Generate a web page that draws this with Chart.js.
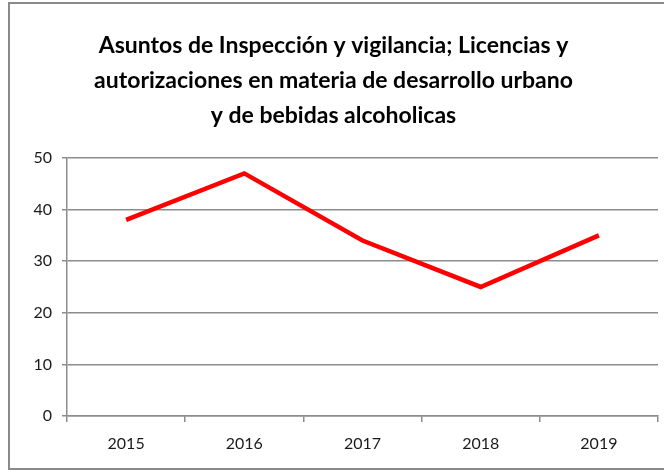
<!DOCTYPE html>
<html>
<head>
<meta charset="utf-8">
<script src="https://cdn.jsdelivr.net/npm/chart.js@4"></script>
<style>
  html, body { margin: 0; padding: 0; background: #fff; }
  #wrap { position: relative; width: 664px; height: 470px; overflow: hidden; }
  #frame {
    position: absolute; left: 8px; top: 2px; width: 700px; height: 464px;
    border: 2px solid #8a8a8a; pointer-events: none;
  }
  canvas { position: absolute; left: 0; top: 0; }
</style>
</head>
<body>
<div id="wrap">
  <div id="frame"></div>
  <canvas id="myChart" width="664" height="470"></canvas>
</div>
<script>
// Datos
const years = ['2015', '2016', '2017', '2018', '2019'];
const asuntos = [38, 47, 34, 25, 35];
const yTicks = [0, 10, 20, 30, 40, 50];
const titleLines = [
  'Asuntos de Inspección y vigilancia; Licencias y',
  'autorizaciones en materia de desarrollo urbano',
  'y de bebidas alcoholicas'
];

const gridGray = '#8c8c8c';
const labelFont = { family: 'Lato', size: 16 };

new Chart(document.getElementById('myChart'), {
  type: 'line',
  data: {
    labels: years,
    datasets: [{
      data: asuntos,
      borderColor: '#ff0000',
      borderWidth: 4.5,
      pointRadius: 0,
      tension: 0,
      fill: false
    }]
  },
  options: {
    responsive: false,
    animation: false,
    layout: { padding: { left: 9, right: 6, top: 0, bottom: 2 } },
    plugins: {
      legend: { display: false },
      tooltip: { enabled: false },
      title: {
        display: true,
        text: titleLines,
        color: '#000',
        font: { family: 'Lato', size: 23, weight: 'bold', lineHeight: 1.52 },
        padding: { top: 28, bottom: 25 }
      }
    },
    scales: {
      x: {
        offset: true,
        grid: { offset: true, drawOnChartArea: false, drawTicks: true, tickLength: 6, color: gridGray, lineWidth: 1.5 },
        border: { display: true, color: gridGray, width: 1.5 },
        ticks: { color: '#1a1a1a', font: labelFont, padding: 12, maxRotation: 0 },
        afterFit: (s) => { s.height = 52; }
      },
      y: {
        min: 0,
        max: 50,
        afterBuildTicks: (s) => { s.ticks = yTicks.map(v => ({ value: v })); },
        grid: { color: gridGray, lineWidth: 1.5, drawTicks: true, tickLength: 5 },
        border: { display: true, color: gridGray, width: 1.5 },
        ticks: { color: '#1a1a1a', font: labelFont, padding: 10 },
        afterFit: (s) => { s.width = 58; }
      }
    }
  }
});
</script>
</body>
</html>
